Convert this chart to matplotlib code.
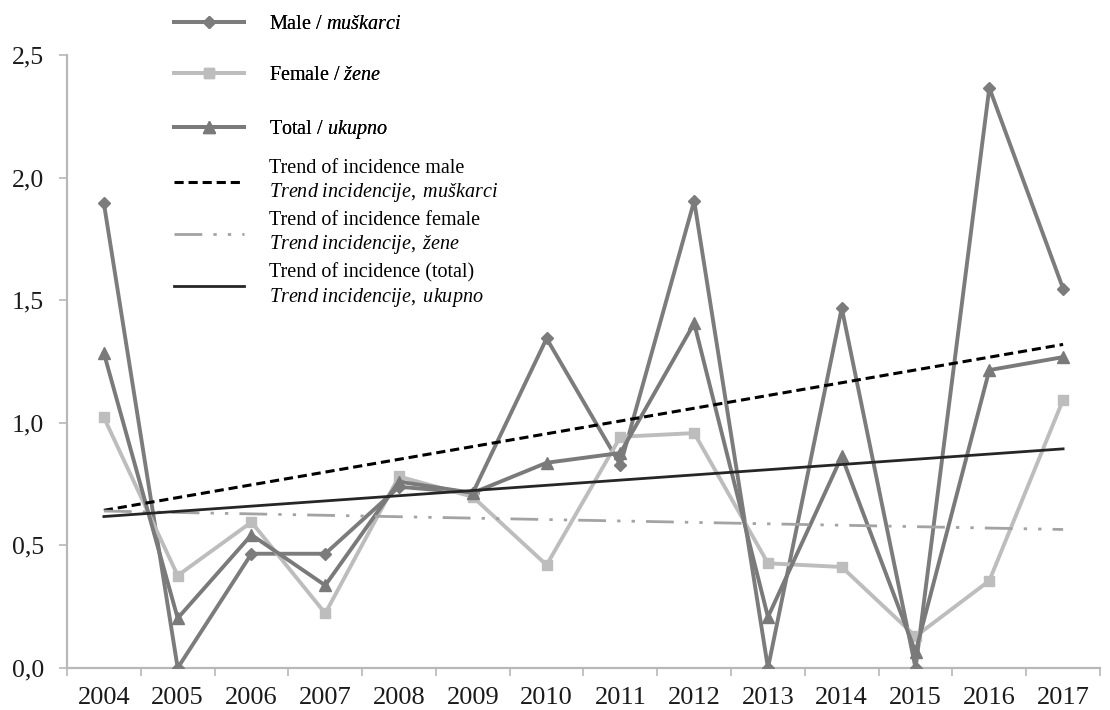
import numpy as np
import matplotlib
matplotlib.use("Agg")
import matplotlib.pyplot as plt

plt.rcParams["font.family"] = ["Liberation Serif", "DejaVu Serif"]
plt.rcParams["mathtext.fontset"] = "custom"
plt.rcParams["mathtext.rm"] = "Liberation Serif"
plt.rcParams["mathtext.it"] = "Liberation Serif:italic"

# Incidence per year
years = ["2004", "2005", "2006", "2007", "2008", "2009", "2010",
         "2011", "2012", "2013", "2014", "2015", "2016", "2017"]
male = [1.895, 0.00, 0.466, 0.466, 0.739, 0.714, 1.344, 0.828, 1.905, 0.00, 1.468, 0.00, 2.366, 1.547]
female = [1.022, 0.377, 0.595, 0.223, 0.781, 0.698, 0.420, 0.943, 0.958, 0.427, 0.412, 0.129, 0.356, 1.094]
total = [1.284, 0.203, 0.543, 0.337, 0.760, 0.714, 0.837, 0.877, 1.406, 0.208, 0.863, 0.065, 1.215, 1.268]

y_ticks = [0.0, 0.5, 1.0, 1.5, 2.0, 2.5]
y_tick_labels = ["0,0", "0,5", "1,0", "1,5", "2,0", "2,5"]

labels_series = [
    r"Male / $\mathit{muškarci}$",
    r"Female / $\mathit{žene}$",
    r"Total / $\mathit{ukupno}$",
]
labels_trend = [
    "Trend of incidence male\n" + r"$\mathit{Trend\ incidencije,\ muškarci}$",
    "Trend of incidence female\n" + r"$\mathit{Trend\ incidencije,\ žene}$",
    "Trend of incidence (total)\n" + r"$\mathit{Trend\ incidencije,\ ukupno}$",
]

c_male = "#7c7c7c"
c_total = "#7a7a7a"
c_female = "#bdbdbd"
c_ftrend = "#a3a3a3"
c_axis = "#b8b8b8"
c_text = "#1a1a1a"

W, H = 1110, 710
fig = plt.figure(figsize=(W / 100, H / 100), dpi=100)
ax = fig.add_axes([67 / W, 1 - 668 / H, (1100 - 67) / W, (668 - 55) / H])

x = np.arange(len(years))

l_m, = ax.plot(x, male, color=c_male, lw=2.8, marker="D", ms=6, zorder=3)
l_f, = ax.plot(x, female, color=c_female, lw=2.8, marker="s", ms=7, zorder=3)
l_t, = ax.plot(x, total, color=c_total, lw=2.8, marker="^", ms=8, zorder=3)

# Linear trend lines fitted to each series
def trend(values):
    k, b = np.polyfit(x, values, 1)
    return k * x + b

t_m, = ax.plot(x, trend(male), color="black", lw=2.2, dashes=(3.0, 1.6), zorder=4)
t_f, = ax.plot(x, trend(female), color=c_ftrend, lw=2.0,
               dashes=(10, 4, 1.2, 4, 1.2, 4), zorder=4)
t_t, = ax.plot(x, trend(total), color="#262626", lw=2.0, zorder=4)

ax.set_xlim(-0.5, len(years) - 0.5)
ax.set_ylim(0, 2.5)
ax.set_xticks(x)
ax.set_xticklabels(years)
ax.set_xticks(np.arange(-0.5, len(years), 1.0), minor=True)
ax.tick_params(axis="x", which="major", length=0, pad=14, labelsize=19, colors=c_text)
ax.tick_params(axis="x", which="minor", length=6, width=1.2, color=c_axis)
ax.set_yticks(y_ticks)
ax.set_yticklabels(y_tick_labels)
ax.tick_params(axis="y", length=6, width=1.2, color=c_axis, labelsize=18.5,
               labelcolor=c_text, pad=10.5)

for side in ("top", "right"):
    ax.spines[side].set_visible(False)
for side in ("left", "bottom"):
    ax.spines[side].set_color(c_axis)
    ax.spines[side].set_linewidth(1.6)

leg_kw = dict(loc="upper left", frameon=False, fontsize=14.5, handlelength=3.5,
              handletextpad=1.2, borderaxespad=0, borderpad=0)
leg1 = fig.legend([l_m, l_f, l_t], labels_series,
                  bbox_to_anchor=(174 / W, 1 - 15 / H), labelspacing=1.6, **leg_kw)
fig.add_artist(leg1)
leg2 = fig.legend([t_m, t_f, t_t], labels_trend,
                  bbox_to_anchor=(174 / W, 1 - 159 / H), labelspacing=0.35, **leg_kw)

fig.savefig("out.png", dpi=100)
